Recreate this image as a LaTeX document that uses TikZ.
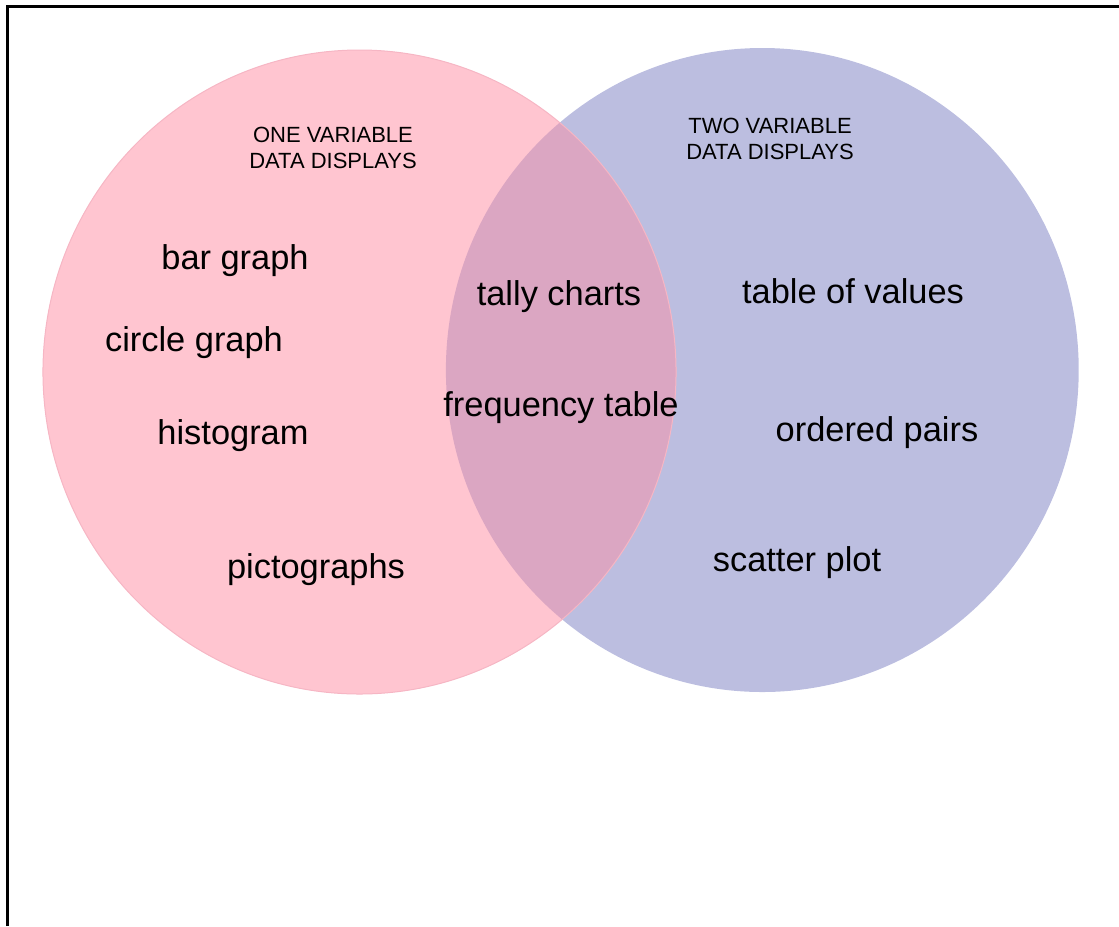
\documentclass[tikz,border=0pt]{standalone}
\usepackage{fontspec}
\setmainfont{Liberation Sans}
\usetikzlibrary{positioning}

\definecolor{onepink}{RGB}{255,197,208}
\definecolor{twoblue}{RGB}{188,190,224}
\definecolor{bothmix}{RGB}{219,166,194}
\definecolor{pinkedge}{RGB}{246,182,196}

\begin{document}
\begin{tikzpicture}[x=0.75pt,y=-0.75pt,
  item/.style={font=\fontsize{25.8}{30}\selectfont, inner sep=0pt},
  heading/.style={font=\fontsize{16.5}{19.5}\selectfont, align=center, inner sep=0pt},
  oneset/.style={x radius=237.4pt, y radius=241.5pt},
  twoset/.style={x radius=237.3pt, y radius=241.5pt}]

  \useasboundingbox (0,0) rectangle (1119,926);

  % frame
  \coordinate (f0) at (7.5,926);
  \coordinate (f1) at (7.5,6.5);
  \coordinate (f2) at (1119,6.5);
  \draw[line width=2.25pt] (f0)--(f1)--(f2);

  % sets
  \coordinate (one) at (359.5,372);
  \coordinate (two) at (762.3,370);

  \fill[twoblue] (two) ellipse [twoset];
  \fill[onepink] (one) ellipse [oneset];
  \begin{scope}
    \clip (one) ellipse [oneset];
    \fill[bothmix] (two) ellipse [twoset];
  \end{scope}
  \draw[pinkedge, line width=0.75pt] (one) ellipse [oneset];

  % headings
  \node[heading] (h1) at (333,148) {ONE VARIABLE\\DATA DISPLAYS};
  \node[heading] (h2) at (770,139) {TWO VARIABLE\\DATA DISPLAYS};

  % one variable
  \node[item] (a1) at (235,261) {bar graph};
  \node[item] (a2) at (194,343) {circle graph};
  \node[item] (a3) at (233,436) {histogram};
  \node[item] (a4) at (316,570) {pictographs};

  % both
  \node[item] (b1) at (559,297) {tally charts};
  \node[item] (b2) at (561,408) {frequency table};

  % two variable
  \node[item] (c1) at (853,291) {table of values};
  \node[item] (c2) at (877,433) {ordered pairs};
  \node[item] (c3) at (797,563) {scatter plot};

\end{tikzpicture}
\end{document}
